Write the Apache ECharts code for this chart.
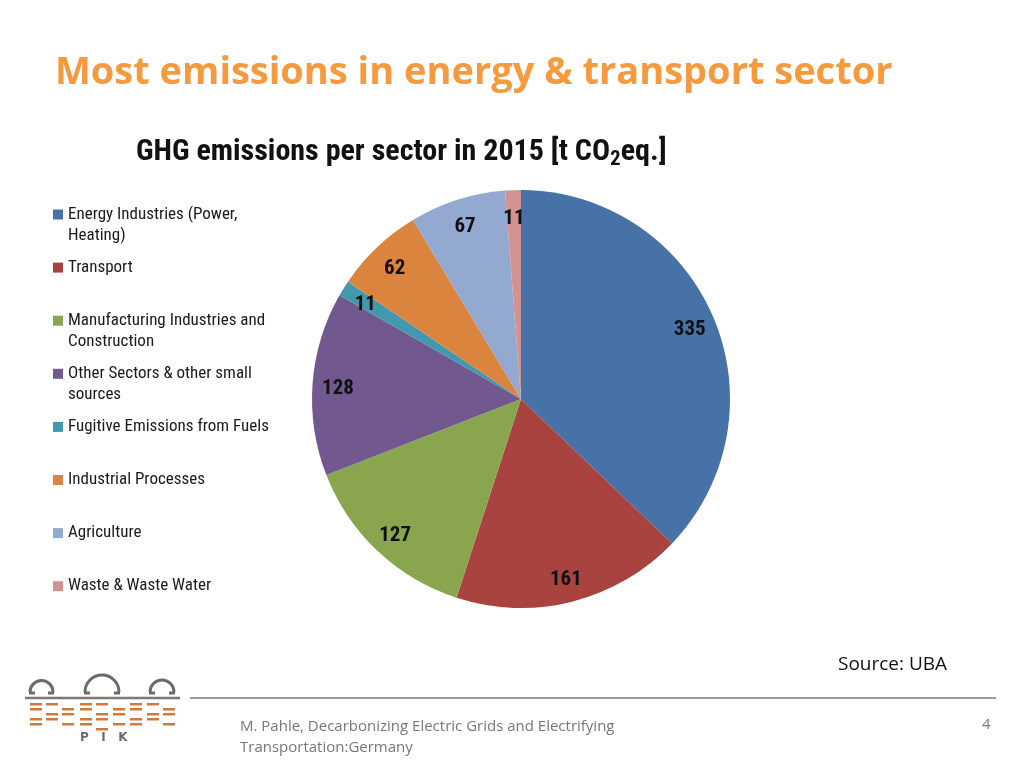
<!DOCTYPE html>
<html><head><meta charset="utf-8">
<script src="https://cdn.jsdelivr.net/npm/echarts@6/dist/echarts.min.js"></script>
<style>html,body{margin:0;padding:0;background:#fff}#c{width:1024px;height:768px}</style>
</head><body><div id="c"></div>
<script>
const categories = ['Energy Industries (Power, Heating)','Transport','Manufacturing Industries and Construction','Other Sectors & other small sources','Fugitive Emissions from Fuels','Industrial Processes','Agriculture','Waste & Waste Water'];
const legendFirstLines = ['Energy Industries (Power,','Transport','Manufacturing Industries and','Other Sectors & other small','Fugitive Emissions from Fuels','Industrial Processes','Agriculture','Waste & Waste Water'];
const legendSecondLines = ['Heating)','','Construction','sources','','','',''];
const values = [335, 161, 127, 128, 11, 62, 67, 11];
const colors = ['#4672A8','#A8433F','#89A54E','#71588F','#4198AF','#DB843D','#93A9CF','#D19392'];

const condensed = "'Liberation Sans Narrow','Roboto Condensed','Roboto',sans-serif";
const data = categories.map((n,i)=>({name:n,value:values[i],itemStyle:{color:colors[i]}}));

const legendTop0 = 214.5, legendStep = 53.1;
const legends = categories.map((n,i)=>({
  left: 53, top: legendTop0 + i*legendStep - 10.5, padding:0,
  orient:'vertical', itemWidth:10, itemHeight:10, itemGap:0,
  icon:'rect', selectedMode:false,
  data:[n],
  formatter: ()=>legendFirstLines[i],
  textStyle:{fontFamily:condensed, fontSize:17, color:'#1a1a1a', lineHeight:21}
}));
const legendExtra = [];
legendSecondLines.forEach((t,i)=>{
  if(t) legendExtra.push({type:'text',left:68,top:legendTop0 + i*legendStep + 21 - 10.5,
    style:{text:t,fontFamily:condensed,fontSize:17,fill:'#1a1a1a',lineHeight:21}});
});

// logo graphic
const logo = [];
const arches = [[41.5,692,11.5],[102,692,17],[162,692,12]];
arches.forEach(a=>{
  logo.push({type:'arc',shape:{cx:a[0],cy:a[1],r:a[2],startAngle:Math.PI,endAngle:2*Math.PI},style:{stroke:'#6b6b6b',lineWidth:3,fill:'none'}});
  logo.push({type:'line',shape:{x1:a[0]-a[2]-1,y1:a[1]+1,x2:a[0]-a[2]+5,y2:a[1]+1},style:{stroke:'#6b6b6b',lineWidth:3}});
  logo.push({type:'line',shape:{x1:a[0]+a[2]-5,y1:a[1]+1,x2:a[0]+a[2]+1,y2:a[1]+1},style:{stroke:'#6b6b6b',lineWidth:3}});
});
logo.push({type:'line',shape:{x1:25,y1:698,x2:180,y2:698},style:{stroke:'#7a7a7a',lineWidth:2.5}});
const rows=[703,708,713,718,723];
const bars=[[30,12],[46,12],[62,12],[80,12],[96,12],[113,12],[130,12],[147,12],[163,12]];
rows.forEach((y,ri)=>{bars.forEach((b,bi)=>{ if((ri+bi)%3!==2) logo.push({type:'rect',shape:{x:b[0],y:y,width:b[1],height:2.5},style:{fill:'#D07A3A'}});});});
logo.push({type:'rect',shape:{x:96,y:728,width:12,height:2.5},style:{fill:'#D07A3A'}});
logo.push({type:'text',left:80,top:732,style:{text:'P   I   K',font:'bold 12px DejaVu Sans',fill:'#6b6b6b'}});

const option = {
  backgroundColor:'#fff',
  animation:false,
  title:[
    {text:'Most emissions in energy & transport sector',left:55,top:54,padding:0,textStyle:{fontFamily:"'Open Sans',Lato,sans-serif",fontWeight:'bold',fontSize:38,color:'#F79A3E'}},
    {text:'{a|GHG emissions per sector in 2015 [t CO}{s|2}{a|eq.]}',left:136,top:135,padding:0,textStyle:{rich:{
      a:{fontFamily:condensed,fontWeight:'bold',fontSize:30,color:'#111'},
      s:{fontFamily:condensed,fontWeight:'bold',fontSize:21,color:'#111',padding:[14,0,0,0]}}}},
    {text:'Source: UBA',left:838,top:655,padding:0,textStyle:{fontFamily:"'Open Sans',sans-serif",fontWeight:'normal',fontSize:19,color:'#111'}},
    {text:'M. Pahle, Decarbonizing Electric Grids and Electrifying\nTransportation:Germany',left:240,top:716,padding:0,textStyle:{fontFamily:"'Open Sans',sans-serif",fontWeight:'normal',fontSize:15,lineHeight:21,color:'#777'}},
    {text:'4',left:982,top:717,padding:0,textStyle:{fontFamily:"'Open Sans',sans-serif",fontWeight:'normal',fontSize:15,color:'#777'}}
  ],
  legend:legends,
  graphic:[{type:'line',shape:{x1:190,y1:698,x2:996,y2:698},style:{stroke:'#9a9a9a',lineWidth:2}}].concat(logo, legendExtra),
  series:[
    {type:'pie',center:[521,399],radius:[0,209],startAngle:90,clockwise:true,data:data,label:{show:false},labelLine:{show:false},emphasis:{disabled:true}},
    {type:'pie',center:[521,402],radius:[152,209],startAngle:90,clockwise:true,silent:true,
     data:categories.map((n,i)=>({name:n,value:values[i]})),
     itemStyle:{color:'rgba(0,0,0,0)'},
     label:{show:true,position:'inside',formatter:'{c}',fontFamily:condensed,fontWeight:'bold',fontSize:21,color:'#111'},
     labelLine:{show:false},emphasis:{disabled:true}}
  ]
};
echarts.init(document.getElementById('c')).setOption(option);
</script></body></html>
